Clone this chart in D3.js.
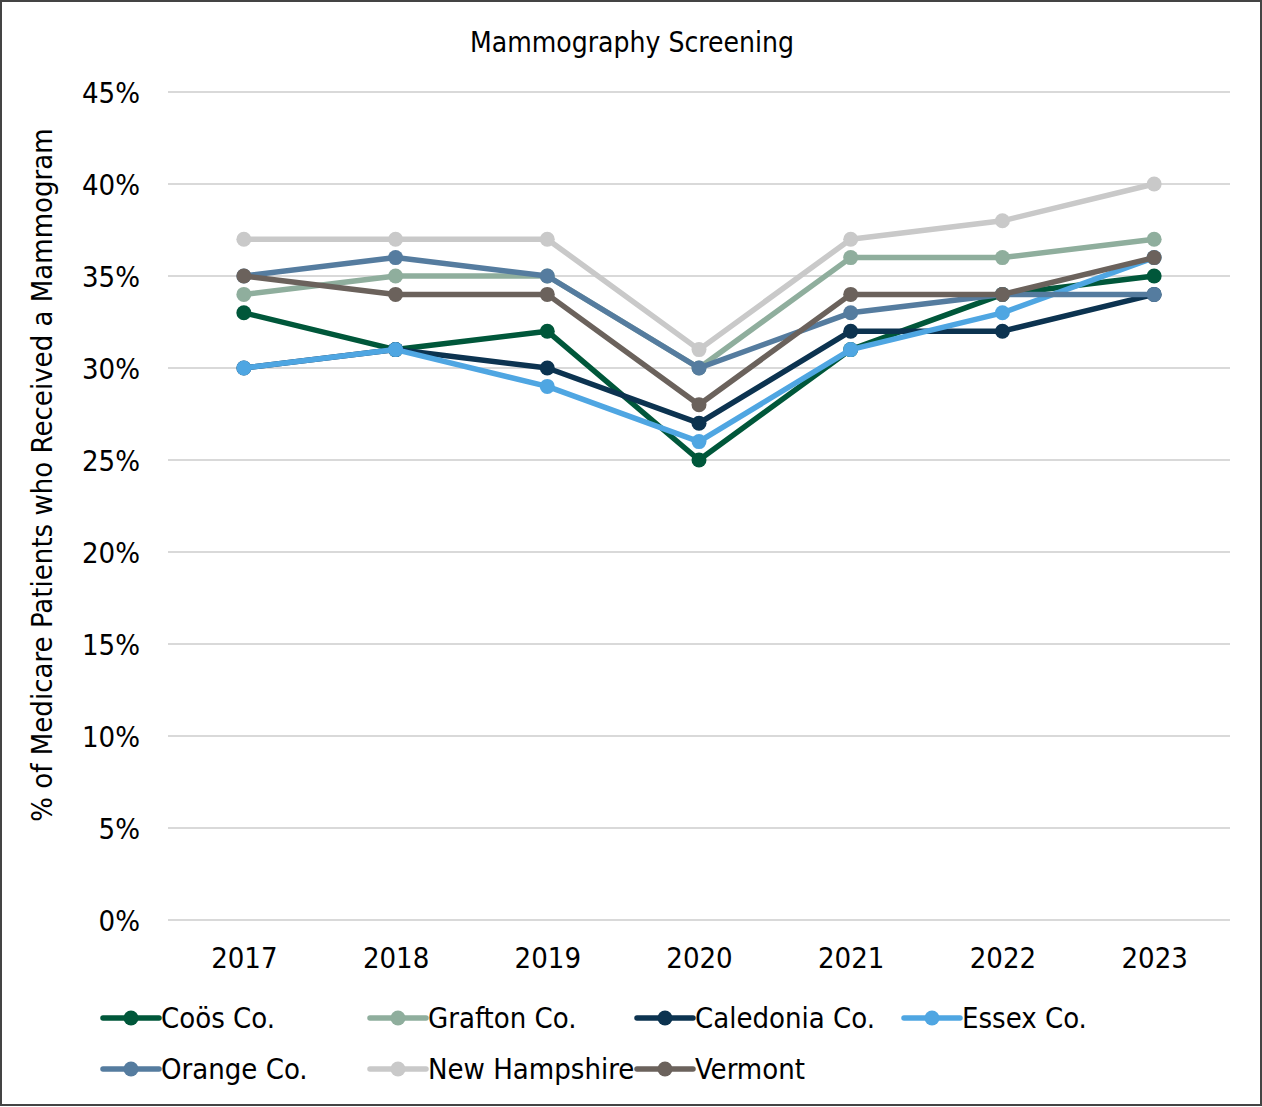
<!DOCTYPE html>
<html lang="en">
<head>
  <meta charset="UTF-8">
  <title>Mammography Screening</title>
  <script src="https://d3js.org/d3.v7.min.js"></script>
  <style>
    body { margin: 0; background: #fff; font-family: "DejaVu Sans Condensed", "DejaVu Sans", sans-serif; }
    svg { display: block; }
    .grid line { stroke: #d9d9d9; stroke-width: 2; }
    .axis text { font-size: 29px; fill: #000; }
  </style>
</head>
<body>
  <script>
    const years = ["2017", "2018", "2019", "2020", "2021", "2022", "2023"];
    const seriesNames = ["Coös Co.", "Grafton Co.", "Caledonia Co.", "Essex Co.", "Orange Co.", "New Hampshire", "Vermont"];
    const seriesColors = ["#00573a", "#8fae9d", "#0c3350", "#4fa6e2", "#557c9f", "#c9c9c9", "#6b625c"];
    const coos = [33, 31, 32, 25, 31, 34, 35];
    const grafton = [34, 35, 35, 30, 36, 36, 37];
    const caledonia = [30, 31, 30, 27, 32, 32, 34];
    const essex = [30, 31, 29, 26, 31, 33, 36];
    const orange = [35, 36, 35, 30, 33, 34, 34];
    const newHampshire = [37, 37, 37, 31, 37, 38, 40];
    const vermont = [35, 34, 34, 28, 34, 34, 36];
    const yTicks = [0, 5, 10, 15, 20, 25, 30, 35, 40, 45];

    const allValues = [coos, grafton, caledonia, essex, orange, newHampshire, vermont];
    const series = seriesNames.map((name, i) => ({ name, color: seriesColors[i], values: allValues[i] }));

    const width = 1262, height = 1107;
    const plotLeft = 168, plotRight = 1230, plotTop = 92, plotBottom = 920;

    const svg = d3.select("body").append("svg")
      .attr("width", width)
      .attr("height", height);

    svg.append("rect")
      .attr("x", 1).attr("y", 1)
      .attr("width", width - 2).attr("height", height - 3)
      .attr("fill", "#fff")
      .attr("stroke", "#444").attr("stroke-width", 2);

    const x = d3.scalePoint().domain(years).range([plotLeft, plotRight]).padding(0.5);
    const y = d3.scaleLinear().domain([0, 45]).range([plotBottom, plotTop]);

    // gridlines
    svg.append("g").attr("class", "grid")
      .selectAll("line")
      .data(yTicks)
      .join("line")
      .attr("x1", plotLeft).attr("x2", plotRight)
      .attr("y1", d => y(d)).attr("y2", d => y(d));

    // y axis labels
    const yAxis = svg.append("g").attr("class", "axis")
      .attr("transform", `translate(${plotLeft - 28},0)`)
      .call(d3.axisLeft(y).tickValues(yTicks).tickFormat(d => d + "%").tickSize(0).tickPadding(0));
    yAxis.select(".domain").remove();
    yAxis.selectAll("text").attr("dy", "0.36em");
    yAxis.attr("font-family", null).attr("font-size", null);

    // x axis labels
    const xAxis = svg.append("g").attr("class", "axis")
      .attr("transform", `translate(0,${plotBottom + 27})`)
      .call(d3.axisBottom(x).tickSize(0).tickPadding(0));
    xAxis.select(".domain").remove();
    xAxis.selectAll("text").attr("dy", "0.71em");
    xAxis.attr("font-family", null).attr("font-size", null);

    // title
    svg.append("text")
      .attr("x", 632).attr("y", 52)
      .attr("text-anchor", "middle")
      .attr("font-size", 28)
      .text("Mammography Screening");

    // y axis title
    svg.append("text")
      .attr("transform", `translate(52,475) rotate(-90)`)
      .attr("text-anchor", "middle")
      .attr("font-size", 29)
      .text("% of Medicare Patients who Received a Mammogram");

    const line = d3.line().x((d, i) => x(years[i])).y(d => y(d));

    const sg = svg.append("g").selectAll("g")
      .data(series)
      .join("g");

    sg.append("path")
      .attr("fill", "none")
      .attr("stroke", d => d.color)
      .attr("stroke-width", 5.5)
      .attr("stroke-linejoin", "round")
      .attr("d", d => line(d.values));

    sg.selectAll("circle")
      .data(d => d.values.map((v, i) => ({ v, i, color: d.color })))
      .join("circle")
      .attr("cx", d => x(years[d.i]))
      .attr("cy", d => y(d.v))
      .attr("r", 7.5)
      .attr("fill", d => d.color);

    // legend
    const legend = svg.append("g")
      .selectAll("g")
      .data(series)
      .join("g")
      .attr("transform", (d, i) => `translate(${103 + (i % 4) * 267},${1018 + Math.floor(i / 4) * 51})`);

    legend.append("line")
      .attr("x1", 0).attr("x2", 56)
      .attr("stroke", d => d.color)
      .attr("stroke-width", 5.5)
      .attr("stroke-linecap", "round");
    legend.append("circle")
      .attr("cx", 28).attr("r", 7.5)
      .attr("fill", d => d.color);
    legend.append("text")
      .attr("x", 58).attr("dy", "0.36em")
      .attr("font-size", 29)
      .text(d => d.name);
  </script>
</body>
</html>
